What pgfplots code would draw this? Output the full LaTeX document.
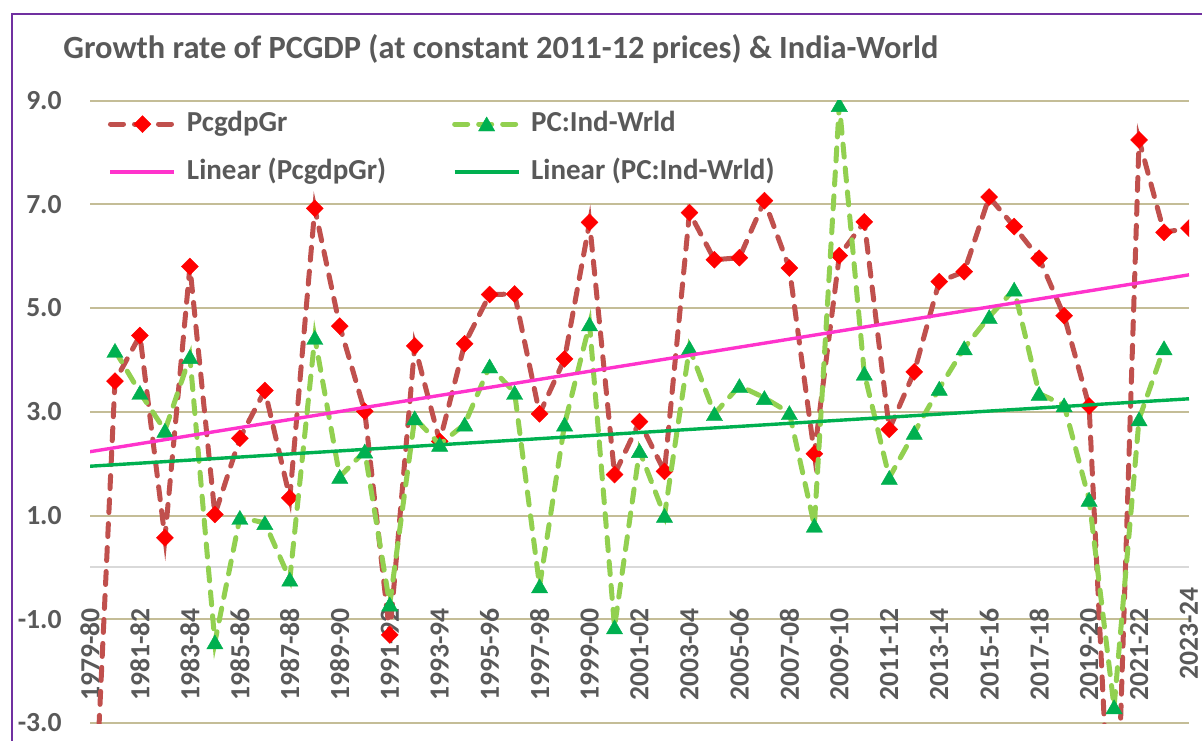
\documentclass[border=0pt]{standalone}
\usepackage{fontspec}
\setmainfont{Carlito}
\usepackage{pgfplots}
\pgfplotsset{compat=1.18}
\definecolor{redline}{RGB}{192,80,77}
\definecolor{redmark}{RGB}{255,0,0}
\definecolor{greenline}{RGB}{146,208,80}
\definecolor{greenmark}{RGB}{0,176,80}
\definecolor{pinktrend}{RGB}{255,51,204}
\definecolor{greentrend}{RGB}{0,176,80}
\definecolor{gridtan}{RGB}{196,189,151}
\definecolor{axgrey}{RGB}{217,217,217}
\definecolor{txtgrey}{RGB}{89,89,89}
\definecolor{framepurple}{RGB}{112,48,160}
\begin{document}
\begin{tikzpicture}
\useasboundingbox (0,0) rectangle (601pt,-370pt);
\draw[framepurple, line width=1pt] (6pt,-380pt) -- (6pt,-7pt) -- (612pt,-7pt);
\node[anchor=base west, inner sep=0pt, font=\bfseries\fontsize{16.2}{19}\selectfont, text=txtgrey] at (31.5pt,-29pt) {Growth rate of PCGDP (at constant 2011-12 prices) \& India-World};
\begin{axis}[
  at={(45pt,-361.5pt)}, anchor=south west,
  scale only axis, width=549.5pt, height=311.25pt,
  xmin=0, xmax=44, ymin=-3, ymax=9,
  axis line style={draw=none}, tick style={draw=none},
  ytick={-3,-1,1,3,5,7,9},
  yticklabels={-3.0,-1.0,1.0,3.0,5.0,7.0,9.0},
  ymajorgrids, grid style={gridtan, line width=1pt},
  extra y ticks={0}, extra y tick labels={},
  extra y tick style={grid style={axgrey, line width=1pt}},
  xtick={0,2,...,44},
  xticklabels={1979-80,1981-82,1983-84,1985-86,1987-88,1989-90,1991-92,1993-94,1995-96,1997-98,1999-00,2001-02,2003-04,2005-06,2007-08,2009-10,2011-12,2013-14,2015-16,2017-18,2019-20,2021-22,{2023-24\kern-10.5pt}},
  yticklabel style={font=\bfseries\fontsize{13.8}{16}\selectfont, text=txtgrey, inner sep=0pt, xshift=-14pt},
  xticklabel shift=-57.5pt,
  xticklabel style={font=\bfseries\fontsize{13.8}{16}\selectfont, text=txtgrey, inner sep=0pt, rotate=90, anchor=east},
  clip marker paths=true,
  legend columns=2,
  legend style={draw=none, fill=none, at={(axis description cs:0.01638,0.983)}, anchor=north west, inner sep=0pt, outer sep=0pt, font=\bfseries\fontsize{14.5}{17}\selectfont, text=txtgrey, row sep=11pt, column sep=0pt, nodes={inner sep=0pt, text height=10pt, text depth=3pt, anchor=west}},
  /tikz/every odd column/.append style={column sep=5pt},
  /tikz/every even column/.append style={column sep=33pt},
  legend image code/.code={\draw[#1, mark repeat=2, mark phase=2] plot coordinates {(0pt,0pt) (16pt,0pt) (32pt,0pt)};},
]
\addplot[color=redline, line width=2.5pt, dash pattern=on 6.5pt off 5.5pt, line cap=round, mark=square*, mark size=3pt, mark options={solid, rotate=45, fill=redmark, draw=redmark, line width=0.2pt}] coordinates {
(0,-6.8) (1,3.59) (2,4.47) (3,0.57) (4,5.80) (5,1.02) (6,2.49) (7,3.41) (8,1.34) (9,6.92)
(10,4.65) (11,3.01) (12,-1.30) (13,4.27) (14,2.43) (15,4.31) (16,5.26) (17,5.27) (18,2.96) (19,4.02)
(20,6.65) (21,1.79) (22,2.81) (23,1.85) (24,6.84) (25,5.93) (26,5.97) (27,7.07) (28,5.77) (29,2.19)
(30,6.01) (31,6.66) (32,2.66) (33,3.77) (34,5.51) (35,5.70) (36,7.14) (37,6.57) (38,5.96) (39,4.85)
(40,3.11) (41,-6.9) (42,8.24) (43,6.46) (44,6.54)};
\addlegendentry{PcgdpGr}
\addplot[color=greenline, line width=2.5pt, dash pattern=on 6.5pt off 5.5pt, line cap=round, mark=triangle*, mark size=4.7pt, mark options={solid, fill=greenmark, draw=greenmark, line width=0.2pt, yshift=-1.1pt}] coordinates {
(1,4.18) (2,3.37) (3,2.64) (4,4.06) (5,-1.44) (6,0.96) (7,0.86) (8,-0.23) (9,4.43)
(10,1.75) (11,2.24) (12,-0.71) (13,2.88) (14,2.37) (15,2.76) (16,3.88) (17,3.37) (18,-0.36) (19,2.76)
(20,4.69) (21,-1.15) (22,2.25) (23,1.00) (24,4.23) (25,2.96) (26,3.50) (27,3.27) (28,2.98) (29,0.81)
(30,8.92) (31,3.74) (32,1.73) (33,2.60) (34,3.45) (35,4.23) (36,4.83) (37,5.36) (38,3.35) (39,3.13)
(40,1.31) (41,-2.69) (42,2.86) (43,4.23)};
\addlegendentry{PC:Ind-Wrld}
\addplot[color=pinktrend, line width=1.7pt, mark=none] coordinates {(0,2.23) (44,5.64)};
\addlegendentry{Linear (PcgdpGr)}
\addplot[color=greentrend, line width=1.7pt, mark=none] coordinates {(0,1.95) (44,3.25)};
\addlegendentry{Linear (PC:Ind-Wrld)}
\end{axis}
\end{tikzpicture}
\end{document}
